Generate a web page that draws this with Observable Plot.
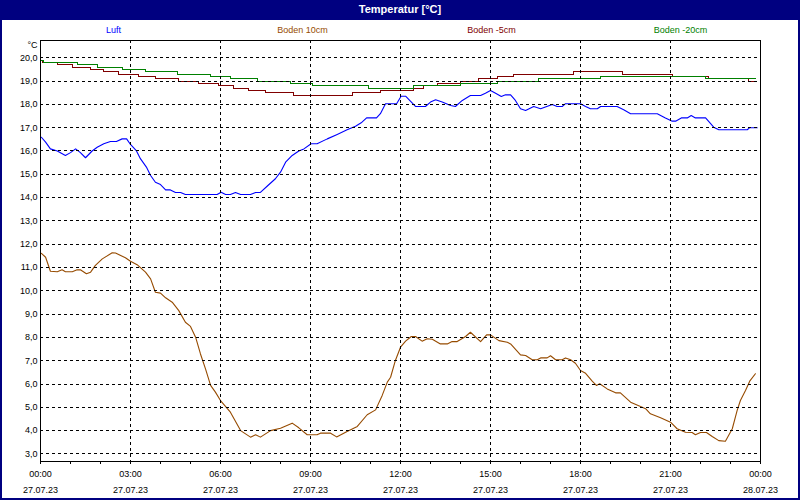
<!DOCTYPE html>
<html><head><meta charset="utf-8">
<script src="https://cdn.jsdelivr.net/npm/d3@7"></script>
<script src="https://cdn.jsdelivr.net/npm/@observablehq/plot@0.6"></script>
<style>
html,body{margin:0;padding:0;background:#fff;}
#wrap{position:relative;width:800px;height:500px;overflow:hidden;background:#fff;font-family:"Liberation Sans",Arial,sans-serif;}
#title{position:absolute;left:0;top:0;width:800px;height:20px;line-height:19px;background:#000080;color:#fff;font-weight:bold;font-size:11px;text-align:center;}
#legend{position:absolute;left:19px;top:24px;height:12px;line-height:12px;font-size:9px;display:flex;}
#legend span{display:block;width:189px;text-align:center;}
#border{position:absolute;left:0;top:0;width:800px;height:500px;box-sizing:border-box;border:2px solid #000080;pointer-events:none;}
#chart{position:absolute;left:0;top:20px;}
</style></head>
<body>
<div id="wrap">
  <div id="chart"></div>
  <div id="title"></div>
  <div id="legend"></div>
  <div id="border"></div>
</div>
<script>
const chartTitle = "Temperatur [°C]";
const seriesNames = ["Luft", "Boden 10cm", "Boden -5cm", "Boden -20cm"];
const seriesColors = ["#0000ff", "#964b00", "#800000", "#008000"];

// hours since 27.07.23 00:00
const luftT = [0.03,0.17,0.33,0.56,0.83,1.0,1.17,1.33,1.5,1.72,1.89,2.11,2.33,2.53,2.72,2.87,3.0,3.2,3.33,3.53,3.67,3.83,4.0,4.17,4.33,4.5,4.67,4.83,5.89,6.02,6.17,6.33,6.5,6.67,7.0,7.17,7.33,7.58,7.83,8.0,8.17,8.39,8.61,8.78,9.02,9.22,9.56,9.89,10.22,10.5,10.69,10.87,11.2,11.33,11.5,11.87,12.02,12.17,12.33,12.5,12.83,13.0,13.17,13.39,13.67,13.83,14.06,14.33,14.67,14.83,15.0,15.17,15.36,15.5,15.67,15.83,16.0,16.17,16.44,16.67,17.06,17.22,17.39,17.5,18.0,18.17,18.33,18.56,18.67,19.22,19.44,19.67,20.56,20.83,21.06,21.17,21.36,21.56,21.69,21.83,22.17,22.44,22.61,23.56,23.64,23.89];
const luftV = [16.59,16.38,16.09,16.0,15.81,15.93,16.09,15.93,15.71,16.0,16.16,16.31,16.41,16.41,16.52,16.52,16.28,16.0,15.67,15.31,14.95,14.66,14.56,14.33,14.33,14.22,14.22,14.13,14.13,14.23,14.13,14.13,14.22,14.13,14.13,14.22,14.22,14.52,14.81,15.09,15.52,15.81,16.0,16.09,16.31,16.31,16.52,16.71,16.91,17.06,17.21,17.42,17.42,17.6,18.03,18.03,18.35,18.35,18.14,17.91,17.91,18.1,18.2,18.1,17.95,17.91,18.17,18.38,18.38,18.48,18.6,18.48,18.34,18.41,18.41,18.17,17.81,17.74,17.91,17.81,18.0,17.91,17.91,18.03,18.03,17.91,17.81,17.81,17.91,17.91,17.77,17.6,17.6,17.42,17.28,17.28,17.42,17.42,17.52,17.42,17.42,17.02,16.91,16.91,17.0,17.0];

const boden10T = [0.03,0.17,0.33,0.56,0.72,0.83,1.06,1.22,1.33,1.53,1.67,1.83,2.06,2.39,2.5,2.83,3.0,3.22,3.5,3.67,3.83,4.0,4.17,4.39,4.61,4.83,5.0,5.17,5.33,5.5,5.67,5.83,6.0,6.33,6.67,7.0,7.17,7.33,7.67,8.0,8.39,8.61,8.89,9.22,9.33,9.67,9.87,10.22,10.56,10.89,11.17,11.39,11.56,11.67,11.83,12.0,12.17,12.36,12.5,12.72,12.89,13.06,13.33,13.56,13.72,13.89,14.17,14.33,14.67,14.87,15.0,15.28,15.56,15.67,16.0,16.17,16.39,16.56,16.67,16.89,17.0,17.17,17.39,17.5,17.67,17.83,18.0,18.17,18.39,18.53,18.64,18.89,19.17,19.33,19.67,20.0,20.17,20.33,20.67,21.0,21.22,21.5,21.72,21.83,22.0,22.2,22.39,22.61,22.83,23.06,23.22,23.33,23.5,23.64,23.83];
const boden10V = [11.61,11.44,10.84,10.82,10.9,10.82,10.82,10.9,10.9,10.73,10.8,11.09,11.37,11.63,11.62,11.42,11.27,11.12,10.8,10.51,9.94,9.9,9.7,9.51,9.15,8.65,8.47,8.01,7.3,6.65,5.94,5.65,5.29,4.79,4.0,3.72,3.82,3.72,4.0,4.1,4.32,4.12,3.82,3.82,3.89,3.89,3.73,3.96,4.18,4.68,4.89,5.51,6.08,6.29,7.01,7.58,7.84,8.04,8.04,7.84,7.94,7.92,7.72,7.72,7.82,7.82,8.04,8.22,7.82,8.11,8.11,7.86,7.79,7.72,7.25,7.22,7.04,7.04,7.12,7.12,7.21,7.04,7.04,7.12,7.04,6.89,6.58,6.46,6.12,5.94,6.01,5.79,5.62,5.62,5.22,5.03,4.94,4.72,4.55,4.36,4.08,3.93,3.92,3.82,3.92,3.92,3.75,3.57,3.54,4.08,4.86,5.29,5.72,6.12,6.44];

const boden5T = [0,0.07,0.57,1.07,1.67,2.1,2.6,3.27,3.83,4.6,5.27,5.93,6.43,6.93,7.5,8.43,10.4,11.33,12.43,12.77,13.23,14.0,14.6,15.23,15.77,17.77,19.4,21.07,22.27,23.6,23.83];
const boden5V = [19.9,19.8,19.7,19.6,19.5,19.4,19.3,19.2,19.1,19.0,18.9,18.8,18.7,18.6,18.5,18.4,18.5,18.6,18.7,18.8,18.9,19.0,19.1,19.2,19.3,19.4,19.3,19.2,19.1,19.0,19.0];

const boden20T = [0,0.1,1.23,1.9,2.73,3.5,4.57,5.67,6.33,7.23,8.33,9.07,10.93,12.43,14.0,15.23,16.6,18.67,22.17,23.83];
const boden20V = [19.9,19.8,19.7,19.6,19.5,19.4,19.3,19.2,19.1,19.0,18.9,18.8,18.7,18.8,18.9,19.0,19.1,19.2,19.1,19.1];

const yTicks = [3,4,5,6,7,8,9,10,11,12,13,14,15,16,17,18,19,20];
const xLabelHours = [0,3,6,9,12,15,18,21,24];
const xTimeLabels = ["00:00","03:00","06:00","09:00","12:00","15:00","18:00","21:00","00:00"];
const xDateLabels = ["27.07.23","27.07.23","27.07.23","27.07.23","27.07.23","27.07.23","27.07.23","27.07.23","28.07.23"];
const xMinorHours = d3.range(0, 25);
const xGridHours = [3,6,9,12,15,18,21];

const rows = (T, V) => T.map((t, i) => ({t, v: V[i]}));

document.getElementById("title").textContent = chartTitle;
const leg = document.getElementById("legend");
seriesNames.forEach((n, i) => {
  const s = document.createElement("span");
  s.textContent = n; s.style.color = seriesColors[i];
  leg.appendChild(s);
});

const dash = "3,3";
const crisp = {shapeRendering: "crispEdges"};
const chart = Plot.plot({
  width: 800, height: 480,
  marginLeft: 40, marginRight: 40, marginTop: 20, marginBottom: 39,
  style: {fontFamily: "'Liberation Sans', Arial, sans-serif", fontSize: "9px", color: "#000", background: "transparent"},
  x: {domain: [0, 24]},
  y: {domain: [2.674, 20.742]},
  marks: [
    Plot.line(rows(boden5T, boden5V), {x: "t", y: "v", stroke: seriesColors[2], strokeWidth: 1, curve: "step-after", ...crisp}),
    Plot.line(rows(boden20T, boden20V), {x: "t", y: "v", stroke: seriesColors[3], strokeWidth: 1, curve: "step-after", ...crisp}),
    Plot.line(rows(luftT, luftV), {x: "t", y: "v", stroke: seriesColors[0], strokeWidth: 1.1}),
    Plot.line(rows(boden10T, boden10V), {x: "t", y: "v", stroke: seriesColors[1], strokeWidth: 1.1}),
    Plot.ruleY(yTicks, {stroke: "#000", strokeDasharray: dash, strokeWidth: 1, ...crisp}),
    Plot.ruleX(xGridHours, {stroke: "#000", strokeDasharray: dash, strokeWidth: 1, ...crisp}),
    Plot.frame({stroke: "#000", strokeWidth: 1, ...crisp}),
    Plot.axisY(yTicks, {tickSize: 0, tickPadding: 3, label: null, tickFormat: d => d.toFixed(1).replace(".", ","), fill: "#000"}),
    Plot.text(["°C"], {frameAnchor: "top-left", textAnchor: "end", lineAnchor: "top", dx: -3, dy: 1, fill: "#000"}),
    Plot.axisX(xMinorHours, {tickSize: 3, tickFormat: () => "", label: null, ...crisp}),
    Plot.axisX(xLabelHours, {tickSize: 0, tickPadding: 4, label: null, lineHeight: 1.78, fill: "#000",
      tickFormat: h => xTimeLabels[xLabelHours.indexOf(h)] + "\n" + xDateLabels[xLabelHours.indexOf(h)]})
  ]
});
document.getElementById("chart").appendChild(chart);
</script>
</body></html>
